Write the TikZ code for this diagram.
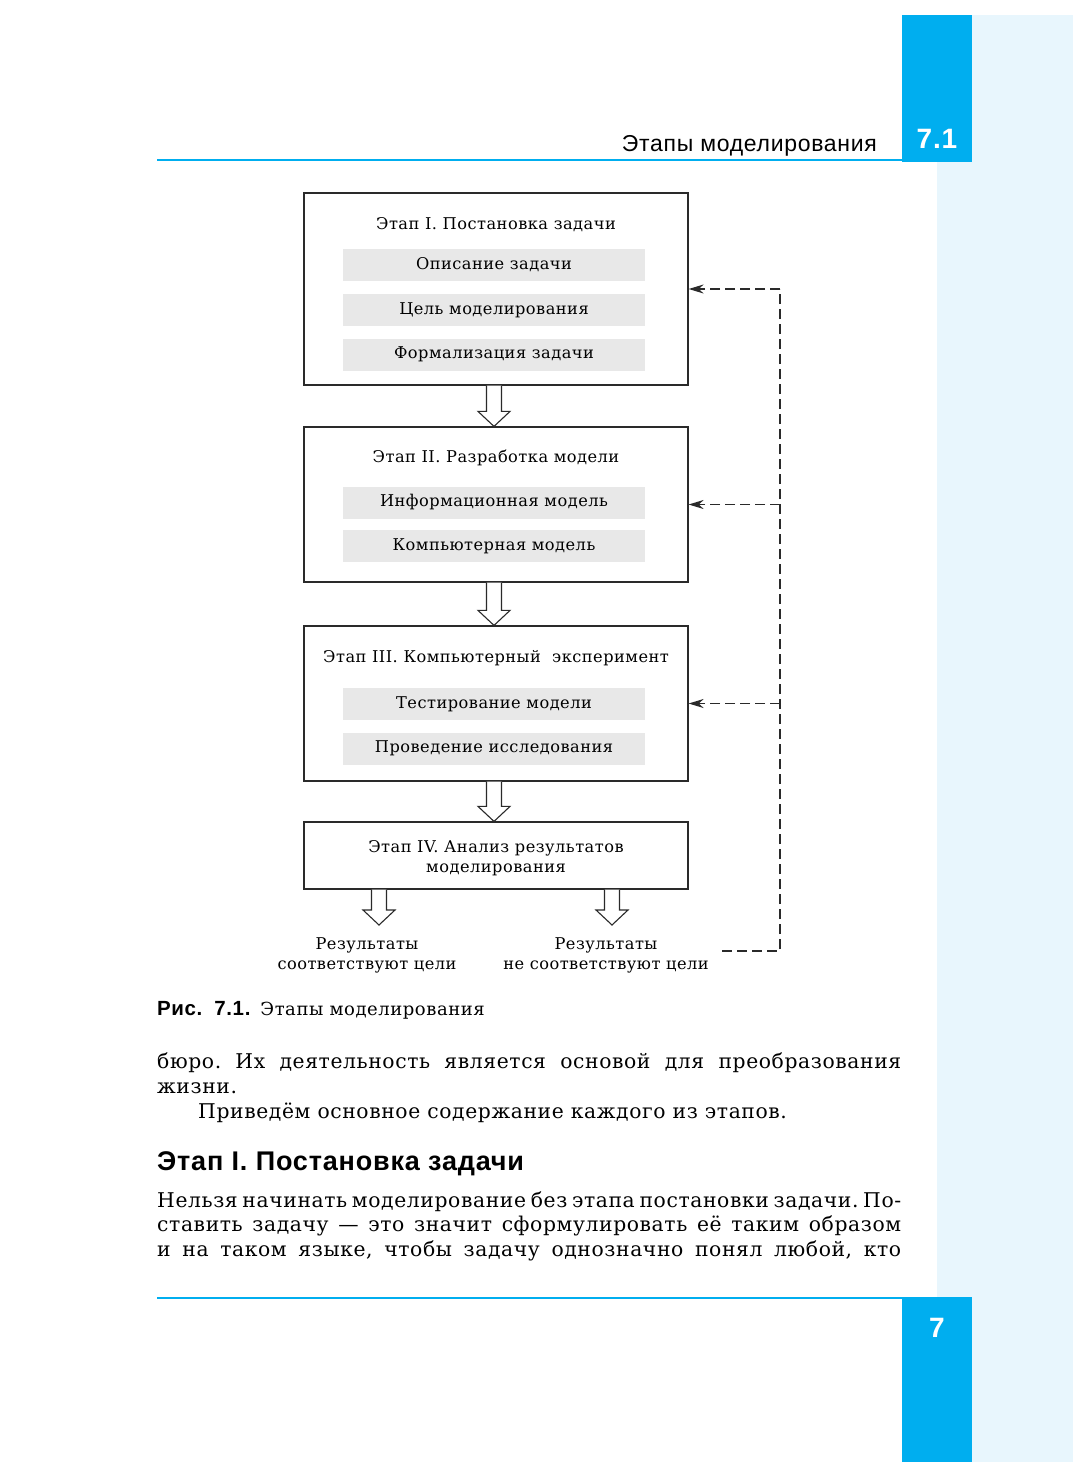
\documentclass[tikz,border=0pt]{standalone}
\usepackage{fontspec}
\setmainfont{DejaVu Serif}[LetterSpace=3]
\setsansfont{Liberation Sans}[LetterSpace=3]
\usetikzlibrary{calc,arrows.meta}

\definecolor{headblue}{HTML}{00AEEF}
\definecolor{stripblue}{HTML}{E8F6FD}
\definecolor{bargray}{HTML}{E8E8E8}
\definecolor{ink}{HTML}{2A2A2A}

\newcommand{\bodyfont}{\fontsize{20.3}{24}\selectfont}
\newcommand{\chartfont}{\fontsize{16.2}{20}\selectfont}

% hollow block arrow from #1 down to #2
\newcommand{\hollowdown}[2]{%
  \draw[ink,line width=1.1pt,fill=white,line join=miter]
    ($(#1)+(-7.5,0)$) -- ($(#2)+(-7.5,-15)$) -- ($(#2)+(-16,-15)$) -- (#2)
    -- ($(#2)+(16,-15)$) -- ($(#2)+(7.5,-15)$) -- ($(#1)+(7.5,0)$);}

\begin{document}
\frenchspacing
\begin{tikzpicture}[x=1pt,y=-1pt,
  stage/.style={draw=ink,line width=1.2pt,minimum width=384pt},
  bar/.style={fill=bargray,minimum width=302pt,minimum height=32pt,inner sep=0pt,font=\chartfont},
  title/.style={font=\chartfont,inner sep=0pt},
  feedback/.style={ink,line width=1.5pt,dash pattern=on 10pt off 5pt},
  tip/.style={-{Stealth[length=15pt,width=9pt]}},
  line/.style={anchor=base west,inner sep=0pt,font=\bodyfont}]
\useasboundingbox (0,0) rectangle (1088,1477);
\fill[white] (0,0) rectangle (1088,1477);

% page decoration
\fill[stripblue] (937,15) rectangle (1073,1462);
\fill[headblue] (902,15) rectangle (972,162);
\fill[headblue] (902,1297) rectangle (972,1462);
\draw[headblue,line width=2.5pt] (157,160) -- (902,160);
\draw[headblue,line width=2.5pt] (157,1298) -- (902,1298);
\node[anchor=base east,inner sep=0pt,font=\sffamily\fontsize{23}{26}\selectfont] (head) at (877,151) {Этапы моделирования};
\node[anchor=base,inner sep=0pt,text=white,font=\sffamily\bfseries\fontsize{28}{30}\selectfont] (sec) at (937,148) {7.1};
\node[anchor=base,inner sep=0pt,text=white,font=\sffamily\bfseries\fontsize{28}{30}\selectfont] (pg) at (937,1337) {7};

% stages
\node[stage,minimum height=192pt] (s1) at (496,289) {};
\node[stage,minimum height=155pt] (s2) at (496,504.5) {};
\node[stage,minimum height=155pt] (s3) at (496,703.5) {};
\node[stage,minimum height=67pt] (s4) at (496,855.5) {};

\node[title] (t1) at (496,225) {Этап I. Постановка задачи};
\node[bar] (b11) at (494,265) {Описание задачи};
\node[bar] (b12) at (494,310) {Цель моделирования};
\node[bar] (b13) at (494,354.5) {Формализация задачи};

\node[title] (t2) at (496,458) {Этап II. Разработка модели};
\node[bar] (b21) at (494,502.5) {Информационная модель};
\node[bar] (b22) at (494,546) {Компьютерная модель};

\node[title] (t3) at (496,658) {Этап III. Компьютерный\ \ эксперимент};
\node[bar] (b31) at (494,704) {Тестирование модели};
\node[bar] (b32) at (494,748.5) {Проведение исследования};

\node[title,align=center] (t4) at (496,858) {Этап IV. Анализ результатов\\[0pt]моделирования};

\hollowdown{s1.south -| 494,0}{s2.north -| 494,0}
\hollowdown{s2.south -| 494,0}{s3.north -| 494,0}
\hollowdown{s3.south -| 494,0}{s4.north -| 494,0}

% outcomes
\coordinate (o1) at (379,925);
\coordinate (o2) at (612,925);
\hollowdown{s4.south -| o1}{o1}
\hollowdown{s4.south -| o2}{o2}
\node[title,align=center] (r1) at (367,955) {Результаты\\[0pt]соответствуют цели};
\node[title,align=center] (r2) at (606,955) {Результаты\\[0pt]не соответствуют цели};

% feedback loop
\coordinate (fbtop) at (780,289);
\coordinate (fbbot) at (780,951);
\coordinate (fbend) at (722,951);
\draw[feedback] (fbend) -- (fbbot) -- (fbtop);
\draw[feedback,tip] (fbtop) -- (s1.east);
\draw[feedback,tip] (s2.east -| fbtop) -- (s2.east);
\draw[feedback,tip] (s3.east -| fbtop) -- (s3.east);

% caption and text
\node[anchor=base west,inner sep=0pt] (cap) at (157,1015) {{\sffamily\bfseries\fontsize{20.5}{20}\selectfont Рис.\hspace{12pt}7.1.}\hspace{10pt}{\fontsize{18}{20}\selectfont Этапы моделирования}};
\node[line] (p1) at (157,1068) {\makebox[744pt][s]{бюро. Их деятельность является основой для преобразования}};
\node[line] (p2) at (157,1093) {жизни.};
\node[line] (p3) at (198,1118) {Приведём основное содержание каждого из этапов.};
\node[anchor=base west,inner sep=0pt,font=\sffamily\bfseries\fontsize{27}{28}\selectfont] (h1) at (157,1170) {Этап I. Постановка задачи};
\node[line] (p4) at (157,1207) {\makebox[744pt][s]{Нельзя начинать моделирование без этапа постановки задачи. По-}};
\node[line] (p5) at (157,1231) {\makebox[744pt][s]{ставить задачу — это значит сформулировать её таким образом}};
\node[line] (p6) at (157,1256) {\makebox[744pt][s]{и на таком языке, чтобы задачу однозначно понял любой, кто}};
\end{tikzpicture}
\end{document}
